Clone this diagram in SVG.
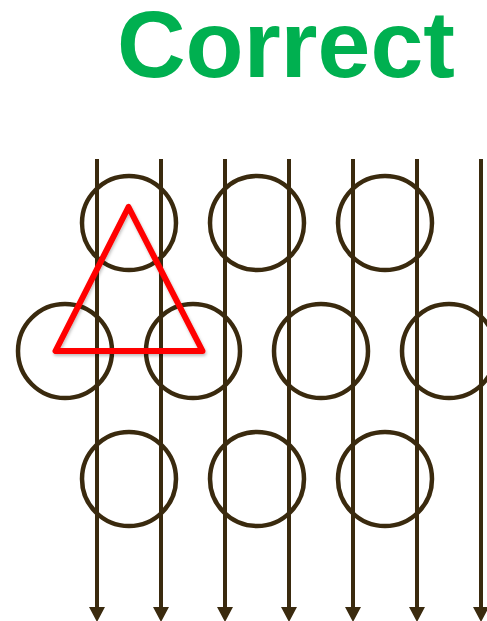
<svg xmlns="http://www.w3.org/2000/svg" width="487" height="621" viewBox="0 0 487 621">
  <defs>
    <marker id="arrow" markerUnits="userSpaceOnUse" markerWidth="16" markerHeight="16" refX="0" refY="8" viewBox="0 0 16 16" orient="auto">
      <path d="M0,0 L15,8 L0,16 Z" fill="#3A2A0E"/>
    </marker>
    <filter id="shadow" x="-20%" y="-20%" width="140%" height="140%">
      <feDropShadow dx="1" dy="2" stdDeviation="1.5" flood-color="#000" flood-opacity="0.25"/>
    </filter>
  </defs>
  <style>
    .title { font-family: "Liberation Sans", Arial, sans-serif; font-weight: bold; font-size: 95px; fill: #00B050; }
    .ring { fill: none; stroke: #3A2A0E; stroke-width: 4.5; }
    .flow { fill: none; stroke: #3A2A0E; stroke-width: 4; marker-end: url(#arrow); }
    .tri { fill: none; stroke: #FF0000; stroke-width: 6; stroke-linejoin: round; }
  </style>
  <rect width="487" height="621" fill="#FFFFFF"/>
  <g id="title"><text class="title" x="117" y="77">Correct</text></g>

  <g id="circles">
    <g id="c-r1-1"><circle class="ring" cx="129" cy="223" r="47"/></g>
    <g id="c-r1-2"><circle class="ring" cx="257" cy="223" r="47"/></g>
    <g id="c-r1-3"><circle class="ring" cx="385" cy="223" r="47"/></g>
    <g id="c-r2-1"><circle class="ring" cx="65" cy="351" r="47"/></g>
    <g id="c-r2-2"><circle class="ring" cx="193" cy="351" r="47"/></g>
    <g id="c-r2-3"><circle class="ring" cx="321" cy="351" r="47"/></g>
    <g id="c-r2-4"><circle class="ring" cx="449" cy="351" r="47"/></g>
    <g id="c-r3-1"><circle class="ring" cx="129" cy="479" r="47"/></g>
    <g id="c-r3-2"><circle class="ring" cx="257" cy="479" r="47"/></g>
    <g id="c-r3-3"><circle class="ring" cx="385" cy="479" r="47"/></g>
  </g>

  <g id="connectors">
    <line class="flow" x1="97" y1="159" x2="97" y2="607"/>
    <line class="flow" x1="161" y1="159" x2="161" y2="607"/>
    <line class="flow" x1="225" y1="159" x2="225" y2="607"/>
    <line class="flow" x1="289" y1="159" x2="289" y2="607"/>
    <line class="flow" x1="353" y1="159" x2="353" y2="607"/>
    <line class="flow" x1="417" y1="159" x2="417" y2="607"/>
    <line class="flow" x1="481" y1="159" x2="481" y2="607"/>
  </g>

  <g id="triangle">
    <polygon class="tri" filter="url(#shadow)" points="128.5,207 55.5,351 202.5,351"/>
  </g>
</svg>
